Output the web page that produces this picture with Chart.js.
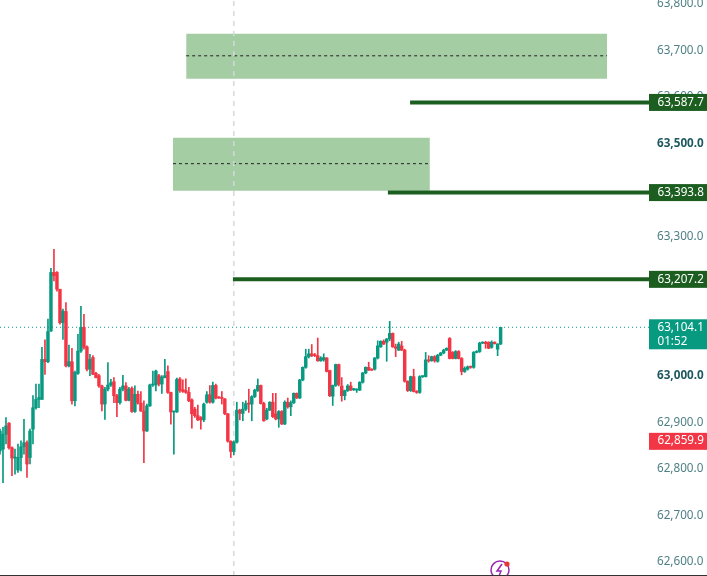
<!DOCTYPE html>
<html><head><meta charset="utf-8">
<style>html,body{margin:0;padding:0;background:#fff;overflow:hidden}canvas{display:block}</style>
<script src="https://cdn.jsdelivr.net/npm/chart.js@4"></script>
</head><body><canvas id="c" width="707" height="576"></canvas>
<script>
const opens=[62838,62842,62874,62898,62845,62823,62797,62824,62847,62856,62824,62885,62931,62949,62949,63035,63030,63096,63222,63222,63186,63114,63138,63021,63030,62946,63005,63053,63104,63062,63014,63039,63005,63000,62978,62939,62971,62980,62987,62957,62942,62971,62978,62947,62973,62923,62960,62941,62924,62881,62935,62980,62980,63000,62982,62996,63009,62964,62922,62922,
62993,62970,62968,62964,62948,62928,62914,62910,62905,62943,62959,62943,62979,62953,62952,62950,62918,62859,62837,62857,62926,62919,62928,62940,62939,62955,62968,62979,62940,62907,62926,62943,62918,62907,62923,62896,62943,62933,62942,62962,62952,62991,63018,63041,63047,63045,63043,63032,63034,63038,63011,62956,62979,
63024,62978,62957,62968,62978,62970,62969,62969,62986,63006,63018,63014,63014,63038,63062,63074,63072,63079,63091,63062,63055,63064,63055,62988,62968,62998,62966,62964,62998,62998,63034,63032,63041,63031,63044,63049,63055,63080,63050,63037,63052,63037,63009,63014,63019,63018,63050,63052,63070,63072,63072,63061,63072,63057,63068];
const closes=[62881,62874,62892,62845,62823,62824,62824,62847,62856,62810,62881,62931,62949,62953,63035,63030,63095,63222,63215,63186,63114,63139,63021,63030,62946,63007,63053,63104,63061,63014,63035,63003,62996,62978,62939,62971,62980,62985,62957,62942,62971,62978,62947,62971,62923,62960,62941,62924,62881,62935,62980,62980,63010,62982,62997,63000,62964,62922,62923,62992,
62968,62966,62964,62946,62918,62914,62905,62905,62939,62959,62943,62979,62952,62952,62951,62918,62859,62837,62857,62926,62919,62928,62940,62939,62955,62969,62979,62940,62903,62926,62943,62912,62907,62923,62896,62943,62933,62942,62962,62952,62991,63018,63041,63047,63043,63043,63032,63038,63039,63009,62957,62979,63024,
62981,62957,62968,62978,62969,62970,62970,62986,63006,63018,63012,63012,63038,63064,63074,63068,63079,63091,63062,63059,63068,63055,62988,62968,62998,62966,62964,62998,62998,63034,63032,63041,63032,63044,63049,63055,63059,63037,63037,63052,63037,63009,63016,63019,63018,63050,63052,63070,63072,63069,63059,63072,63069,63068,63104.1];
const highs=[62885,62889,62910,62899,62847,62842,62853,62860,62906,62860,62885,62957,62982,62982,63061,63077,63122,63231,63272,63224,63186,63143,63157,63066,63059,63010,63089,63149,63132,63064,63046,63043,63007,63003,62980,62975,63028,62992,62996,62960,62975,63001,62985,62975,62976,62978,62967,62966,62946,62939,62982,63010,63012,63003,63000,63035,63021,62965,62924,62995,
62996,62991,62993,62975,62950,62932,62937,62912,62941,62966,62979,62986,62982,62955,62966,62951,62919,62860,62860,62943,62928,62943,62946,62971,62957,62971,62993,62980,62943,62930,62944,62962,62962,62925,62925,62946,62952,62946,62963,62963,62992,63019,63057,63057,63067,63048,63081,63041,63047,63039,63012,62980,63025,
63025,62996,62969,62981,62986,62973,62972,62987,63007,63019,63029,63015,63039,63075,63075,63077,63080,63117,63092,63068,63072,63074,63057,62989,62999,63014,62968,63000,63000,63050,63043,63042,63043,63046,63050,63057,63060,63082,63052,63054,63054,63039,63019,63021,63021,63052,63054,63072,63073,63074,63073,63075,63073,63069,63104.1];
const lows=[62831,62770,62853,62842,62785,62788,62792,62795,62831,62781,62810,62853,62928,62931,62949,63003,63028,63095,63204,63182,63111,63078,63019,63019,62939,62935,63003,63050,63057,63010,63000,63002,62995,62975,62924,62906,62967,62977,62942,62912,62939,62967,62946,62946,62921,62921,62939,62923,62813,62880,62934,62977,62967,62978,62962,62995,62962,62896,62831,62921,
62964,62964,62962,62944,62887,62910,62903,62885,62901,62941,62941,62941,62950,62951,62939,62916,62857,62824,62830,62855,62905,62903,62925,62921,62903,62953,62966,62939,62902,62905,62925,62910,62905,62889,62895,62895,62930,62914,62940,62951,62951,62989,63016,63038,63041,63041,63031,63031,63031,63008,62955,62936,62977,
62978,62945,62948,62966,62968,62968,62964,62968,62984,63004,63011,63011,63012,63036,63061,63067,63031,63075,63061,63041,63054,63054,62986,62966,62966,62965,62962,62962,62996,62997,63029,63031,63029,63029,63043,63047,63054,63036,63036,63036,63036,63002,63007,63012,63016,63016,63049,63050,63069,63059,63058,63059,63068,63043,63067];
const priceTicks=[62600,62700,62800,62900,63000,63100,63200,63300,63400,63500,63600,63700,63800];
const hiddenTicks=[63100,63200,63400];
const boldTicks=[63000,63500];
const levels=[{p:63587.7,from:136.8},{p:63393.8,from:129.4},{p:63207.2,from:77.7}];
const zoneA={top:63735.5,mid:63688,bottom:63638.7,from:62.1,to:202.5};
const zoneB={top:63512,mid:63456,bottom:63398,from:57.7,to:143.4};
const lastPrice=63104.1, lowTag=62859.9, countdown="01:52", crossIndex=78;
const xMax=216.5, yMin=62569.2, yMax=63808;
const UP='#089981', DOWN='#f23645', LEVEL='#1b5e20', ZONE='#a5cda4';
const fmt=v=>v.toLocaleString('en-US',{minimumFractionDigits:1,maximumFractionDigits:1});
const idx=opens.map((_,i)=>i);
const colour=idx.map(i=>closes[i]>=opens[i]?UP:DOWN);
const seg=(x0,x1,y0,y1)=>[{x:x0,y:y0},{x:x1,y:y1===undefined?y0:y1}];
const line=(data,color,w,dash,order,extra)=>Object.assign({type:'line',data,borderColor:color,borderWidth:w,borderDash:dash||[],pointRadius:0,tension:0,fill:false,order,borderCapStyle:'butt'},extra||{});
const zoneSets=z=>[
  line(seg(z.from,z.to,z.top),ZONE,0,null,9),
  line(seg(z.from,z.to,z.bottom),ZONE,0,null,9,{fill:{target:'-1',above:ZONE,below:ZONE}}),
  line(seg(z.from,z.to,z.mid),'#222',1,[3,3],8)
];
const datasets=[
  ...zoneSets(zoneA),...zoneSets(zoneB),
  line(seg(crossIndex,crossIndex,yMin,yMax),'#d5d8dc',1.5,[5,5],7),
  line(seg(0,xMax,lastPrice),'#089981',1,[1,3],6),
  ...levels.map(l=>line(seg(l.from,xMax,l.p),LEVEL,4,null,5)),
  {type:'bar',label:'wick',data:idx.map(i=>({x:i,y:[lows[i],highs[i]]})),backgroundColor:colour,barThickness:1,grouped:false,order:4},
  {type:'bar',label:'body',data:idx.map(i=>({x:i,y:[opens[i],closes[i]]})),backgroundColor:colour,barThickness:2.8,minBarLength:1,grouped:false,order:3}
];
const tags={id:'tags',afterDraw(ch){
  const c=ch.ctx,y=ch.scales.y,L=649,W=58;
  c.save();
  c.font='11.7px "Noto Sans"';c.textBaseline='middle';c.textAlign='left';
  levels.forEach(l=>{const p=y.getPixelForValue(l.p);
    c.fillStyle=LEVEL;c.fillRect(L,p-8.5,W,17);c.fillStyle='#fff';c.fillText(fmt(l.p),657.5,p);});
  const lp=y.getPixelForValue(lastPrice);
  c.fillStyle=UP;c.fillRect(L,lp-8,W,30);c.fillStyle='#fff';
  c.fillText(fmt(lastPrice),657.5,lp);c.fillText(countdown,657.5,lp+14);
  const rp=y.getPixelForValue(lowTag);
  c.fillStyle=DOWN;c.fillRect(L,rp-8,W,17);c.fillStyle='#fff';c.fillText(fmt(lowTag),657.5,rp);
  // logo mark and bottom edge
  c.strokeStyle='#9c27b0';c.lineWidth=1.5;c.beginPath();c.arc(500,570,9,0,Math.PI*2);c.stroke();
  c.beginPath();c.moveTo(502,564);c.lineTo(497,571);c.lineTo(501,571);c.lineTo(499,576);c.stroke();
  c.fillStyle='#e53935';c.beginPath();c.arc(507,564,2.6,0,Math.PI*2);c.fill();
  c.fillStyle='#333';c.fillRect(0,575,707,1);
  c.restore();
}};
new Chart(document.getElementById('c'),{
  data:{datasets},
  plugins:[tags],
  options:{
    responsive:false,animation:false,
    layout:{padding:0},
    plugins:{legend:{display:false},tooltip:{enabled:false}},
    scales:{
      x:{type:'linear',min:0,max:xMax,display:false,grid:{display:false},offset:false},
      y:{type:'linear',position:'right',min:yMin,max:yMax,
        grid:{display:false,drawTicks:false},border:{display:false},
        afterBuildTicks:s=>{s.ticks=priceTicks.filter(v=>!hiddenTicks.includes(v)).map(v=>({value:v}));},
        afterFit:s=>{s.width=58;s.paddingTop=0;s.paddingBottom=0;},
        ticks:{autoSkip:false,padding:8,maxRotation:0,
          callback:v=>fmt(v),
          font:ctx=>({family:'"Noto Sans"',size:11.7,weight:boldTicks.includes(ctx.tick&&ctx.tick.value)?'700':'400'}),
          color:ctx=>boldTicks.includes(ctx.tick&&ctx.tick.value)?'#1f5a60':'#4f8086'}
      }
    }
  }
});
</script></body></html>
